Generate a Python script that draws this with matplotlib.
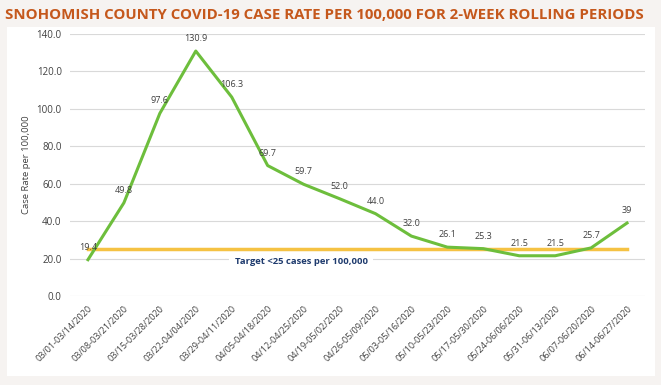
import numpy as np
import matplotlib.pyplot as plt

periods = ['03/01-03/14/2020', '03/08-03/21/2020', '03/15-03/28/2020', '03/22-04/04/2020',
           '03/29-04/11/2020', '04/05-04/18/2020', '04/12-04/25/2020', '04/19-05/02/2020',
           '04/26-05/09/2020', '05/03-05/16/2020', '05/10-05/23/2020', '05/17-05/30/2020',
           '05/24-06/06/2020', '05/31-06/13/2020', '06/07-06/20/2020', '06/14-06/27/2020']
rates = [19.4, 49.8, 97.6, 130.9, 106.3, 69.7, 59.7, 52.0, 44.0, 32.0, 26.1, 25.3, 21.5, 21.5, 25.7, 39]
rate_labels = ['19.4', '49.8', '97.6', '130.9', '106.3', '69.7', '59.7', '52.0', '44.0', '32.0',
               '26.1', '25.3', '21.5', '21.5', '25.7', '39']
target = 25
yticks = [0, 20, 40, 60, 80, 100, 120, 140]

plt.rcParams['font.family'] = ['Open Sans', 'DejaVu Sans']

fig = plt.figure(figsize=(6.61, 3.85), dpi=100)
fig.patch.set_facecolor('#f6f3f1')

# white panel behind chart
bg = fig.add_axes([7/661, 1-376/385, 648/661, 349/385], zorder=-1)
bg.set_facecolor('white')
bg.set_xticks([])
bg.set_yticks([])
for s in bg.spines.values():
    s.set_visible(False)

fig.text(5/661, 1-15/385, 'SNOHOMISH COUNTY COVID-19 CASE RATE PER 100,000 FOR 2-WEEK ROLLING PERIODS',
         color='#C5581C', fontsize=10.8, fontweight='bold', va='center', ha='left')

ax = fig.add_axes([70/661, 1-296/385, 575/661, 262/385])
ax.patch.set_alpha(0)
x = np.arange(len(rates))

ax.plot(x, [target]*len(x), color='#F5C243', lw=2.5, zorder=3)
ax.plot(x, rates, color='#6DBE3C', lw=2.2, zorder=4)

for xi, v, lab in zip(x, rates, rate_labels):
    ax.annotate(lab, (xi, v), xytext=(0, 9), textcoords='offset points', ha='center', va='center',
                fontsize=6.5, color='#404040', zorder=5)

ax.text(5.93, 18.2, 'Target <25 cases per 100,000', color='#1F3B6E', fontsize=6.8, fontweight='bold',
        ha='center', va='center', zorder=5,
        bbox=dict(facecolor='white', edgecolor='none', pad=4))

ax.set_xlim(-0.5, len(x)-0.5)
ax.set_ylim(0, 140)
ax.set_yticks(yticks)
ax.set_yticklabels([f'{t:.1f}' for t in yticks], fontsize=7, color='#404040')
ax.yaxis.grid(True, color='#d9d9d9', lw=0.8)
ax.set_axisbelow(True)
ax.set_xticks(x)
ax.set_xticklabels(periods, rotation=45, ha='right', rotation_mode='anchor', fontsize=6.5, color='#404040')
ax.tick_params(length=0, pad=6)
for s in ax.spines.values():
    s.set_visible(False)
ax.set_ylabel('Case Rate per 100,000', fontsize=6.8, color='#404040', labelpad=4)

fig.savefig('out.png', dpi=100, facecolor=fig.get_facecolor())
